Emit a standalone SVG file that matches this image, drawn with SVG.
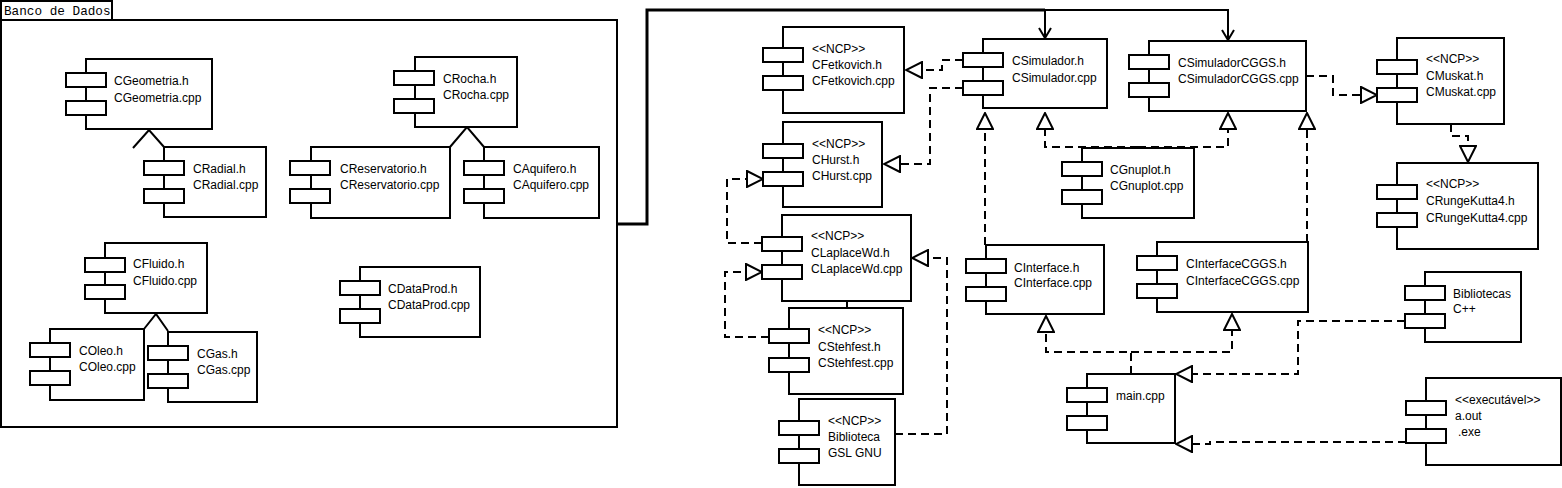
<svg xmlns="http://www.w3.org/2000/svg" width="1562" height="488" viewBox="0 0 1562 488">
<style>
.b{fill:#fff;stroke:#000;stroke-width:2}
.t{font-family:"Liberation Sans",Arial,sans-serif;font-size:12px;fill:#000}
.m{font-family:"Liberation Mono","Courier New",monospace;font-size:12.7px;fill:#000}
.d{fill:none;stroke:#000;stroke-width:2;stroke-dasharray:8,5}
.s{fill:none;stroke:#000;stroke-width:2}
</style>
<defs>
<marker id="tri" viewBox="0 0 18 18" refX="17" refY="9" markerWidth="18" markerHeight="18" markerUnits="userSpaceOnUse" orient="auto">
<path d="M1,1 L17,9 L1,17 Z" fill="#fff" stroke="#000" stroke-width="2" stroke-dasharray="none"/>
</marker>
</defs>
<rect width="1562" height="488" fill="#fff"/>
<g id="pkg">
<rect x="1" y="1" width="111" height="19" class="b"/>
<rect x="1" y="20" width="616" height="407" class="b"/>
<text x="4" y="15" class="m">Banco de Dados</text>
</g>
<g id="connectors">
<path d="M617,224 H647 V10 H1045" fill="none" stroke="#000" stroke-width="3"/>
<path d="M1045,10 H1228 V40" class="s"/>
<path d="M1045,10 V38" class="s"/>
<path d="M1039,28 L1045,38 L1051,28" class="s"/>
<path d="M1222,30 L1228,40 L1234,30" class="s"/>
<path d="M847,301 V308" class="s"/>
<path d="M133,148 L149,130 L164,147" class="s"/>
<path d="M450,147 L467,127 L484,147" class="s"/>
<path d="M144,329 L156,314 L168,331" class="s"/>
<path d="M963,60 H942 V70 H906" class="d" marker-end="url(#tri)"/>
<path d="M963,88 H930 V164 H884" class="d" marker-end="url(#tri)"/>
<path d="M762,243 H727 V179 H763" class="d" marker-end="url(#tri)"/>
<path d="M769,337 H725 V272 H762" class="d" marker-end="url(#tri)"/>
<path d="M895,434 H947 V258 H912" class="d" marker-end="url(#tri)"/>
<path d="M1138,147 H1045 V113" class="d" marker-end="url(#tri)"/>
<path d="M1138,147 H1228 V113" class="d" marker-end="url(#tri)"/>
<path d="M985,245 V113" class="d" marker-end="url(#tri)"/>
<path d="M1307,242 V113" class="d" marker-end="url(#tri)"/>
<path d="M1131,374 V352 H1046 V316" class="d" marker-end="url(#tri)"/>
<path d="M1131,352 H1232 V314" class="d" marker-end="url(#tri)"/>
<path d="M1405,321 H1298 V374 H1176" class="d" marker-end="url(#tri)"/>
<path d="M1406,442 H1210 V444 H1176" class="d" marker-end="url(#tri)"/>
<path d="M1306,76 H1333 V95 H1377" class="d" marker-end="url(#tri)"/>
<path d="M1451,124 V136 H1468 V162" class="d" marker-end="url(#tri)"/>
</g>
<g id="CGeometria"><rect x="86" y="59" width="126" height="70" class="b"/><rect x="66" y="73" width="40" height="14" class="b"/><rect x="66" y="101" width="40" height="14" class="b"/><text class="t" x="114" y="85">CGeometria.h</text><text class="t" x="114" y="102">CGeometria.cpp</text></g>
<g id="CRadial"><rect x="164" y="147" width="102" height="70" class="b"/><rect x="144" y="161" width="40" height="14" class="b"/><rect x="144" y="189" width="40" height="14" class="b"/><text class="t" x="193" y="173">CRadial.h</text><text class="t" x="193" y="189">CRadial.cpp</text></g>
<g id="CRocha"><rect x="415" y="57" width="102" height="70" class="b"/><rect x="394" y="71" width="40" height="14" class="b"/><rect x="394" y="99" width="40" height="14" class="b"/><text class="t" x="443" y="83">CRocha.h</text><text class="t" x="443" y="99">CRocha.cpp</text></g>
<g id="CReservatorio"><rect x="311" y="147" width="139" height="71" class="b"/><rect x="290" y="161" width="40" height="14" class="b"/><rect x="290" y="189" width="40" height="14" class="b"/><text class="t" x="340" y="173">CReservatorio.h</text><text class="t" x="340" y="189">CReservatorio.cpp</text></g>
<g id="CAquifero"><rect x="484" y="147" width="115" height="71" class="b"/><rect x="464" y="161" width="40" height="14" class="b"/><rect x="464" y="189" width="40" height="14" class="b"/><text class="t" x="513" y="173">CAquifero.h</text><text class="t" x="513" y="189">CAquifero.cpp</text></g>
<g id="CFluido"><rect x="105" y="243" width="102" height="70" class="b"/><rect x="85" y="258" width="40" height="14" class="b"/><rect x="85" y="285" width="40" height="14" class="b"/><text class="t" x="133" y="268">CFluido.h</text><text class="t" x="133" y="285">CFluido.cpp</text></g>
<g id="COleo"><rect x="50" y="329" width="94" height="71" class="b"/><rect x="30" y="343" width="40" height="14" class="b"/><rect x="30" y="371" width="40" height="14" class="b"/><text class="t" x="79" y="355">COleo.h</text><text class="t" x="79" y="371">COleo.cpp</text></g>
<g id="CGas"><rect x="168" y="332" width="89" height="70" class="b"/><rect x="148" y="346" width="40" height="14" class="b"/><rect x="148" y="374" width="40" height="14" class="b"/><text class="t" x="197" y="358">CGas.h</text><text class="t" x="197" y="374">CGas.cpp</text></g>
<g id="CDataProd"><rect x="360" y="267" width="120" height="70" class="b"/><rect x="340" y="281" width="40" height="14" class="b"/><rect x="340" y="309" width="40" height="14" class="b"/><text class="t" x="388" y="293">CDataProd.h</text><text class="t" x="388" y="309">CDataProd.cpp</text></g>
<g id="CFetkovich"><rect x="783" y="27" width="121" height="86" class="b"/><rect x="763" y="48" width="40" height="14" class="b"/><rect x="763" y="76" width="40" height="14" class="b"/><text class="t" x="812" y="53">&lt;&lt;NCP&gt;&gt;</text><text class="t" x="812" y="69">CFetkovich.h</text><text class="t" x="812" y="85">CFetkovich.cpp</text></g>
<g id="CHurst"><rect x="783" y="122" width="99" height="85" class="b"/><rect x="763" y="144" width="40" height="14" class="b"/><rect x="763" y="172" width="40" height="14" class="b"/><text class="t" x="812" y="148">&lt;&lt;NCP&gt;&gt;</text><text class="t" x="812" y="164">CHurst.h</text><text class="t" x="812" y="180">CHurst.cpp</text></g>
<g id="CLaplaceWd"><rect x="782" y="215" width="129" height="86" class="b"/><rect x="762" y="237" width="40" height="14" class="b"/><rect x="762" y="265" width="40" height="14" class="b"/><text class="t" x="811" y="240">&lt;&lt;NCP&gt;&gt;</text><text class="t" x="811" y="257">CLaplaceWd.h</text><text class="t" x="811" y="273">CLaplaceWd.cpp</text></g>
<g id="CStehfest"><rect x="789" y="308" width="114" height="86" class="b"/><rect x="769" y="329" width="40" height="14" class="b"/><rect x="769" y="358" width="40" height="14" class="b"/><text class="t" x="818" y="334">&lt;&lt;NCP&gt;&gt;</text><text class="t" x="818" y="351">CStehfest.h</text><text class="t" x="818" y="367">CStehfest.cpp</text></g>
<g id="GSL"><rect x="799" y="399" width="96" height="86" class="b"/><rect x="779" y="421" width="40" height="14" class="b"/><rect x="779" y="449" width="40" height="14" class="b"/><text class="t" x="828" y="425">&lt;&lt;NCP&gt;&gt;</text><text class="t" x="828" y="441">Biblioteca</text><text class="t" x="828" y="457">GSL GNU</text></g>
<g id="CSimulador"><rect x="983" y="39" width="124" height="69" class="b"/><rect x="963" y="53" width="40" height="14" class="b"/><rect x="963" y="81" width="40" height="14" class="b"/><text class="t" x="1012" y="65">CSimulador.h</text><text class="t" x="1012" y="82">CSimulador.cpp</text></g>
<g id="CSimuladorCGGS"><rect x="1149" y="41" width="157" height="70" class="b"/><rect x="1129" y="55" width="40" height="14" class="b"/><rect x="1129" y="83" width="40" height="14" class="b"/><text class="t" x="1178" y="67">CSimuladorCGGS.h</text><text class="t" x="1178" y="83">CSimuladorCGGS.cpp</text></g>
<g id="CGnuplot"><rect x="1082" y="148" width="112" height="70" class="b"/><rect x="1062" y="162" width="40" height="14" class="b"/><rect x="1062" y="190" width="40" height="14" class="b"/><text class="t" x="1110" y="174">CGnuplot.h</text><text class="t" x="1110" y="190">CGnuplot.cpp</text></g>
<g id="CInterface"><rect x="986" y="245" width="118" height="69" class="b"/><rect x="966" y="259" width="40" height="14" class="b"/><rect x="966" y="287" width="40" height="14" class="b"/><text class="t" x="1014" y="272">CInterface.h</text><text class="t" x="1014" y="287">CInterface.cpp</text></g>
<g id="CInterfaceCGGS"><rect x="1157" y="242" width="151" height="70" class="b"/><rect x="1137" y="256" width="40" height="14" class="b"/><rect x="1137" y="284" width="40" height="14" class="b"/><text class="t" x="1186" y="268">CInterfaceCGGS.h</text><text class="t" x="1186" y="285">CInterfaceCGGS.cpp</text></g>
<g id="main"><rect x="1087" y="374" width="88" height="69" class="b"/><rect x="1067" y="388" width="40" height="14" class="b"/><rect x="1067" y="416" width="40" height="14" class="b"/><text class="t" x="1116" y="400">main.cpp</text></g>
<g id="Bibliotecas"><rect x="1425" y="272" width="96" height="70" class="b"/><rect x="1405" y="286" width="40" height="14" class="b"/><rect x="1405" y="314" width="40" height="14" class="b"/><text class="t" x="1453" y="298">Bibliotecas</text><text class="t" x="1453" y="313">C++</text></g>
<g id="aout"><rect x="1426" y="378" width="135" height="87" class="b"/><rect x="1406" y="401" width="40" height="14" class="b"/><rect x="1406" y="429" width="40" height="14" class="b"/><text class="t" x="1455" y="404">&lt;&lt;executável&gt;&gt;</text><text class="t" x="1455" y="420">a.out</text><text class="t" x="1458" y="436">.exe</text></g>
<g id="CMuskat"><rect x="1397" y="38" width="107" height="86" class="b"/><rect x="1377" y="60" width="40" height="14" class="b"/><rect x="1377" y="88" width="40" height="14" class="b"/><text class="t" x="1426" y="63">&lt;&lt;NCP&gt;&gt;</text><text class="t" x="1426" y="80">CMuskat.h</text><text class="t" x="1426" y="96">CMuskat.cpp</text></g>
<g id="CRungeKutta4"><rect x="1397" y="163" width="141" height="86" class="b"/><rect x="1377" y="185" width="40" height="14" class="b"/><rect x="1377" y="213" width="40" height="14" class="b"/><text class="t" x="1426" y="188">&lt;&lt;NCP&gt;&gt;</text><text class="t" x="1426" y="205">CRungeKutta4.h</text><text class="t" x="1426" y="222">CRungeKutta4.cpp</text></g>
</svg>
